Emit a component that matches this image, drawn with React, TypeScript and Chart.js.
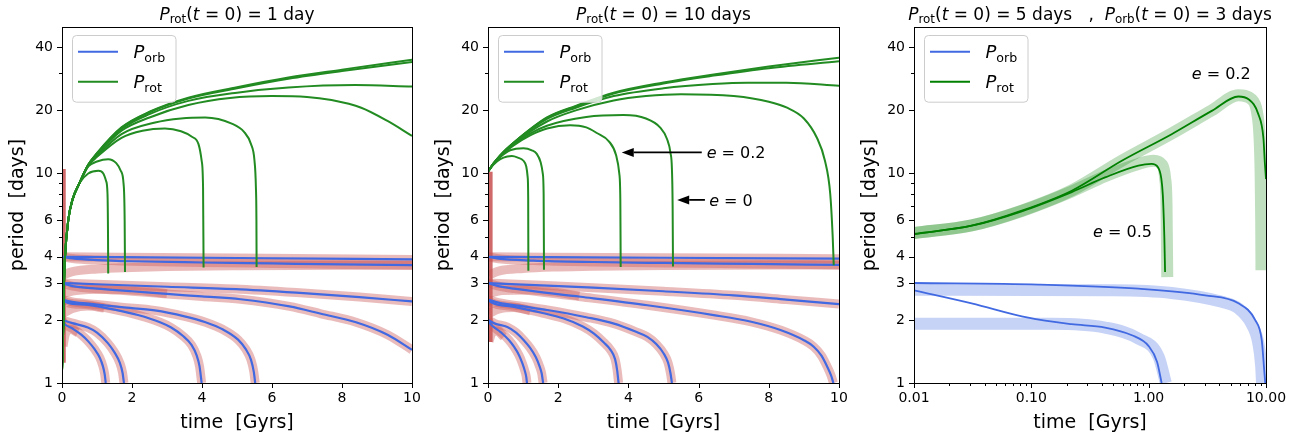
import React, { useEffect, useRef } from 'react';
import { Chart, registerables } from 'chart.js';

Chart.register(...registerables);

type Pt = [number, number];

const W = 1301;
const H = 436;
const FONT = '"DejaVu Sans", "Liberation Sans", sans-serif';

// ---------------- ticks ----------------
const X_LIN_TICKS = [0, 2, 4, 6, 8, 10];
const X_LIN_LABELS = ['0', '2', '4', '6', '8', '10'];
const X_LOG_MAJOR = [0.01, 0.1, 1, 10];
const X_LOG_LABELS = ['0.01', '0.10', '1.00', '10.00'];
const X_LOG_MINOR = [0.02, 0.03, 0.04, 0.05, 0.06, 0.07, 0.08, 0.09, 0.2, 0.3, 0.4, 0.5, 0.6, 0.7, 0.8, 0.9, 2, 3, 4, 5, 6, 7, 8, 9];
const Y_MAJOR = [1, 2, 3, 4, 6, 10, 20, 40];
const Y_LABELS = ['1', '2', '3', '4', '6', '10', '20', '40'];
const Y_MINOR = [5, 7, 8, 9, 30];

// ---------------- colours ----------------
const BLUE = 'rgb(65,105,225)';
const GREEN = 'rgb(34,139,34)';
const GREEN_DARK = 'rgb(0,128,0)';
const PINK = 'rgba(205,92,92,0.42)';
const RED_BAR = 'rgba(200,80,80,0.85)';
const BLUE_BAND = 'rgba(65,105,225,0.3)';
const GREEN_BAND = 'rgba(0,128,0,0.25)';

// ---------------- panel 1 : P_rot(t=0) = 1 day ----------------
const P1_ORB_A1: Pt[] = [[0, 4.0], [5, 3.95], [10, 3.89]];
const P1_ORB_A2: Pt[] = [[0, 4.0], [0.3, 3.93], [1, 3.86], [2, 3.81], [4, 3.76], [6, 3.72], [8, 3.68], [10, 3.65]];
const P1_ORB_B1: Pt[] = [[0, 3.0], [1, 2.96], [3, 2.88], [5.1, 2.8], [7, 2.68], [8.5, 2.57], [10, 2.45]];
const P1_ORB_B2: Pt[] = [[0, 3.0], [0.3, 2.9], [1, 2.82], [2, 2.74], [3, 2.66], [4, 2.59], [5.1, 2.51], [6.5, 2.32], [7.4, 2.14], [8.4, 1.95], [9.3, 1.7], [10, 1.44]];
const P1_ORB_C1: Pt[] = [[0, 2.5], [0.3, 2.44], [1, 2.37], [1.7, 2.3], [2.65, 2.22], [3.5, 2.08], [4.1, 1.95], [4.6, 1.8], [5.03, 1.61], [5.25, 1.45], [5.4, 1.29], [5.48, 1.13], [5.52, 1.0]];
const P1_ORB_C2: Pt[] = [[0, 2.5], [0.15, 2.42], [0.74, 2.36], [1.5, 2.24], [2.17, 2.11], [2.8, 1.95], [3.12, 1.84], [3.45, 1.68], [3.7, 1.52], [3.85, 1.35], [3.93, 1.2], [3.99, 1.0]];
const P1_ORB_D1: Pt[] = [[0, 2.0], [0.3, 1.93], [0.74, 1.84], [1.0, 1.74], [1.31, 1.55], [1.5, 1.4], [1.65, 1.25], [1.73, 1.12], [1.77, 1.0]];
const P1_ORB_D2: Pt[] = [[0, 2.0], [0.05, 1.93], [0.3, 1.82], [0.55, 1.7], [0.75, 1.58], [0.93, 1.45], [1.08, 1.32], [1.17, 1.2], [1.22, 1.1], [1.25, 1.0]];

const P1_SYNC_A: Pt[] = [[0.03, 3.28], [0.3, 3.4], [1, 3.5], [2, 3.56], [3, 3.6], [5, 3.63], [10, 3.65]];
const P1_SYNC_B: Pt[] = [[0.03, 2.68], [0.4, 2.76], [1.2, 2.8], [2.2, 2.76], [3.0, 2.67]];
const P1_SYNC_C: Pt[] = [[0.03, 2.15], [0.3, 2.27], [0.74, 2.33], [1.2, 2.28]];
const P1_SYNC_D: Pt[] = [[0.03, 1.5], [0.1, 1.72], [0.25, 1.8], [0.45, 1.74]];
const P1_RED_BAR: Pt[] = [[0.05, 1.25], [0.05, 10.5]];

const P1_ROT_START: Pt[] = [[0, 1.15], [0.02, 1.5], [0.04, 2.0], [0.057, 3.0], [0.086, 4.0], [0.18, 6.0], [0.3, 7.5], [0.5, 9.0]];
const P1_ROT_1: Pt[] = [[0.75, 10.0], [1.04, 10.3], [1.18, 10.0], [1.26, 9.2], [1.3, 8.0], [1.315, 5.0], [1.32, 3.33]];
const P1_ROT_2: Pt[] = [[0.75, 10.8], [1.0, 11.4], [1.32, 11.7], [1.55, 11.2], [1.68, 10.3], [1.76, 8.9], [1.79, 6.0], [1.8, 3.39]];
const P1_ROT_3: Pt[] = [[0.75, 10.9], [1.0, 12.0], [1.7, 14.8], [2.3, 16.0], [2.94, 16.4], [3.4, 15.9], [3.7, 15.0], [3.9, 13.8], [3.99, 11.5], [4.03, 8.6], [4.045, 3.56]];
const P1_ROT_4: Pt[] = [[0.75, 10.9], [1.0, 12.1], [1.7, 15.4], [2.66, 17.5], [3.4, 18.3], [4.09, 18.5], [4.85, 17.3], [5.2, 15.8], [5.4, 13.8], [5.5, 11.5], [5.54, 8.6], [5.555, 6.0], [5.56, 3.58]];
const P1_ROT_5: Pt[] = [[0.75, 11.0], [1.0, 12.3], [1.7, 16.0], [2.5, 18.5], [3.61, 21.2], [4.8, 22.9], [5.99, 23.4], [7.0, 23.2], [7.7, 22.4], [8.55, 20.6], [9.3, 17.8], [10, 15.1]];
const P1_ROT_6: Pt[] = [[0.75, 11.0], [1.0, 12.4], [1.7, 16.3], [2.5, 19.2], [3.61, 22.2], [5.0, 24.3], [6.47, 25.7], [8.37, 26.4], [10, 26.0]];
const P1_ROT_7: Pt[] = [[0.75, 11.0], [1.0, 12.5], [1.7, 16.6], [2.5, 19.7], [3.61, 23.0], [5.0, 25.8], [6.47, 28.7], [8.0, 31.3], [10, 34.9]];
const P1_ROT_8: Pt[] = [[0.75, 11.0], [1.0, 12.5], [1.7, 16.5], [2.5, 19.6], [3.61, 22.8], [5.0, 25.5], [6.47, 28.3], [8.0, 30.8], [10, 34.0]];

// ---------------- panel 2 : P_rot(t=0) = 10 days ----------------
const P2_ORB_A1: Pt[] = [[0, 4.0], [5, 3.96], [10, 3.92]];
const P2_ORB_A2: Pt[] = [[0, 4.0], [0.3, 3.92], [1.3, 3.84], [3, 3.78], [5, 3.74], [7.5, 3.7], [10, 3.66]];
const P2_ORB_B1: Pt[] = [[0, 3.0], [1, 2.95], [3, 2.85], [5, 2.74], [7, 2.62], [8.5, 2.5], [10, 2.38]];
const P2_ORB_B2: Pt[] = [[0, 3.0], [0.3, 2.9], [0.74, 2.82], [2.64, 2.58], [4.54, 2.35], [6.43, 2.11], [7.5, 1.96], [8.33, 1.79], [9.0, 1.6], [9.28, 1.49], [9.5, 1.35], [9.66, 1.2], [9.78, 1.08], [9.84, 1.0]];
const P2_ORB_C1: Pt[] = [[0, 2.5], [0.3, 2.42], [1, 2.32], [1.69, 2.23], [2.8, 2.06], [3.59, 1.92], [4.2, 1.76], [4.54, 1.66], [4.8, 1.53], [5.01, 1.38], [5.13, 1.25], [5.2, 1.11], [5.24, 1.0]];
const P2_ORB_C2: Pt[] = [[0, 2.5], [0.1, 2.42], [0.74, 2.31], [1.5, 2.17], [2.16, 2.03], [2.7, 1.86], [3.02, 1.72], [3.3, 1.56], [3.49, 1.44], [3.62, 1.3], [3.68, 1.15], [3.72, 1.0]];
const P2_ORB_D1: Pt[] = [[0, 2.0], [0.2, 1.92], [0.55, 1.85], [0.8, 1.74], [1.02, 1.6], [1.2, 1.47], [1.36, 1.33], [1.47, 1.2], [1.53, 1.11], [1.57, 1.0]];
const P2_ORB_D2: Pt[] = [[0, 2.0], [0.05, 1.93], [0.36, 1.75], [0.6, 1.6], [0.74, 1.49], [0.88, 1.36], [0.98, 1.24], [1.05, 1.14], [1.09, 1.07], [1.11, 1.0]];

const P2_SYNC_A: Pt[] = [[0.03, 3.28], [0.3, 3.42], [1, 3.52], [2, 3.58], [3, 3.61], [5, 3.64], [10, 3.66]];
const P2_SYNC_B: Pt[] = [[0.03, 2.68], [0.4, 2.76], [1.2, 2.78], [2.0, 2.7], [2.6, 2.6]];
const P2_SYNC_C: Pt[] = [[0.03, 2.15], [0.3, 2.25], [0.74, 2.29], [1.2, 2.21]];
const P2_SYNC_D: Pt[] = [[0.03, 1.58], [0.1, 1.72], [0.25, 1.77], [0.45, 1.66]];
const P2_RED_BAR: Pt[] = [[0.06, 1.57], [0.06, 10.2]];

const P2_ROT_1: Pt[] = [[0, 10.2], [0.15, 11.0], [0.35, 11.7], [0.55, 12.05], [0.68, 12.1], [0.85, 11.9], [1.01, 11.5], [1.09, 10.8], [1.13, 9.6], [1.145, 7.6], [1.15, 3.43]];
const P2_ROT_2: Pt[] = [[0, 10.2], [0.15, 11.1], [0.35, 12.0], [0.63, 12.9], [1.01, 13.2], [1.25, 12.9], [1.39, 12.4], [1.5, 11.3], [1.56, 10.0], [1.585, 8.0], [1.595, 3.47]];
const P2_ROT_3: Pt[] = [[0, 10.2], [0.15, 11.1], [0.35, 12.1], [0.73, 13.6], [1.2, 15.2], [1.68, 16.4], [2.34, 17.0], [2.8, 16.6], [3.1, 15.6], [3.45, 14.2], [3.65, 12.2], [3.74, 10.0], [3.77, 7.5], [3.78, 3.58]];
const P2_ROT_4: Pt[] = [[0, 10.2], [0.15, 11.1], [0.35, 12.1], [0.73, 13.7], [1.2, 15.5], [1.68, 16.9], [2.8, 18.6], [3.86, 19.0], [4.5, 18.3], [4.9, 16.6], [5.1, 14.6], [5.2, 12.5], [5.24, 10.5], [5.26, 7.0], [5.27, 3.6]];
const P2_ROT_5: Pt[] = [[0, 10.2], [0.15, 11.1], [0.35, 12.2], [0.73, 13.9], [1.68, 17.7], [2.5, 20.0], [3.58, 22.3], [4.5, 23.4], [5.5, 23.9], [7.0, 23.4], [8.0, 22.0], [8.52, 20.6], [9.0, 18.3], [9.37, 14.8], [9.6, 11.5], [9.75, 8.0], [9.82, 5.0], [9.85, 3.65]];
const P2_ROT_6: Pt[] = [[0, 10.2], [0.15, 11.1], [0.35, 12.2], [0.73, 14.0], [1.68, 18.2], [2.5, 20.6], [3.58, 23.4], [5.0, 25.5], [6.4, 26.7], [7.4, 27.1], [8.5, 27.1], [10, 26.2]];
const P2_ROT_7: Pt[] = [[0, 10.2], [0.15, 11.1], [0.35, 12.2], [0.73, 14.0], [1.68, 18.5], [2.5, 21.0], [3.58, 24.3], [5.0, 27.2], [6.43, 29.7], [8.0, 32.4], [10, 35.7]];
const P2_ROT_8: Pt[] = [[0, 10.2], [0.15, 11.1], [0.35, 12.2], [0.73, 14.0], [1.68, 18.4], [2.5, 20.9], [3.58, 24.1], [5.0, 26.9], [6.43, 29.3], [8.0, 31.8], [10, 34.3]];

// ---------------- panel 3 : P_rot(0)=5, P_orb(0)=3 (log time) ----------------
const P3_ROT_E02: Pt[] = [[0.01, 5.14], [0.031, 5.63], [0.083, 6.64], [0.221, 8.27], [0.59, 11.5], [1.57, 15.4], [3.45, 19.9], [5.82, 23.3], [7.1, 22.6], [8.6, 19.2], [9.5, 14.8], [9.8, 11.0], [10, 9.4]];
const P3_ROT_E05: Pt[] = [[0.01, 5.14], [0.031, 5.63], [0.083, 6.6], [0.221, 8.15], [0.425, 9.57], [0.817, 10.9], [1.06, 11.1], [1.2, 10.7], [1.28, 9.5], [1.32, 7.9], [1.36, 5.0], [1.38, 3.39]];
const P3_ROT_E02_BAND: Pt[] = [[0.01, 5.2], [0.031, 5.65], [0.083, 6.65], [0.221, 8.3], [0.59, 11.5], [1.57, 15.5], [3.45, 20.0], [5.82, 23.6], [7.6, 22.5], [8.4, 19.5], [8.8, 15.0], [9.0, 10.0], [9.1, 6.0], [9.15, 3.45]];
const P3_ROT_E05_BAND: Pt[] = [[0.01, 5.2], [0.031, 5.65], [0.083, 6.62], [0.221, 8.2], [0.425, 9.7], [0.817, 11.1], [1.1, 11.5], [1.3, 11.0], [1.38, 9.5], [1.42, 7.0], [1.44, 3.2]];
const P3_ORB_E02: Pt[] = [[0.01, 3.0], [0.115, 2.95], [0.817, 2.82], [3.03, 2.62], [5.82, 2.4], [8.07, 2.0], [9.2, 1.6], [9.6, 1.2], [9.85, 1.0]];
const P3_ORB_E05: Pt[] = [[0.01, 2.77], [0.031, 2.4], [0.094, 2.05], [0.22, 1.91], [0.425, 1.84], [0.72, 1.69], [1.0, 1.5], [1.18, 1.26], [1.29, 1.0]];
const P3_ORB_E02_BAND: Pt[] = [[0.01, 2.79], [0.5, 2.77], [1.57, 2.69], [4.2, 2.44], [5.82, 2.27], [7.5, 1.92], [8.6, 1.55], [9.1, 1.2], [9.25, 1.0]];
const P3_ORB_E05_BAND: Pt[] = [[0.01, 1.92], [0.15, 1.92], [0.425, 1.84], [0.82, 1.63], [1.22, 1.33], [1.4, 1.0]];

// ---------------- types ----------------
interface Seg { t: string; it?: boolean; sub?: boolean }
interface Series { data: Pt[]; color: string; width: number; order: number }
interface Note { segs: Seg[]; x: number; y: number }
interface Arrow { from: Pt; to: Pt }
interface PanelDef {
  left: number; width: number; yAxisW: number; padRight: number; xLog: boolean;
  series: Series[]; title: Seg[]; notes: Note[]; arrows: Arrow[]; legendGreen: string;
}

const P_ROT: Seg[] = [{ t: 'P', it: true }, { t: 'rot', sub: true }];
const P_ORB: Seg[] = [{ t: 'P', it: true }, { t: 'orb', sub: true }];
const T_EQ0: Seg[] = [{ t: '(' }, { t: 't', it: true }, { t: ' = 0) = ' }];

const TITLE1: Seg[] = [...P_ROT, ...T_EQ0, { t: '1 day' }];
const TITLE2: Seg[] = [...P_ROT, ...T_EQ0, { t: '10 days' }];
const TITLE3: Seg[] = [...P_ROT, ...T_EQ0, { t: '5 days   ,  ' }, ...P_ORB, ...T_EQ0, { t: '3 days' }];

const eq = (v: string): Seg[] => [{ t: 'e', it: true }, { t: ' = ' + v }];

function bands(list: Pt[][], color: string, width: number, order: number): Series[] {
  return list.map((d) => ({ data: d, color, width, order }));
}

const P1_ORB = [P1_ORB_A1, P1_ORB_A2, P1_ORB_B1, P1_ORB_B2, P1_ORB_C1, P1_ORB_C2, P1_ORB_D1, P1_ORB_D2];
const P1_SYNC = [P1_SYNC_A, P1_SYNC_B, P1_SYNC_C, P1_SYNC_D];
const P1_ROT = [P1_ROT_1, P1_ROT_2, P1_ROT_3, P1_ROT_4, P1_ROT_5, P1_ROT_6, P1_ROT_7, P1_ROT_8].map((r) => [...P1_ROT_START, ...r]);

const P2_ORB = [P2_ORB_A1, P2_ORB_A2, P2_ORB_B1, P2_ORB_B2, P2_ORB_C1, P2_ORB_C2, P2_ORB_D1, P2_ORB_D2];
const P2_SYNC = [P2_SYNC_A, P2_SYNC_B, P2_SYNC_C, P2_SYNC_D];
const P2_ROT = [P2_ROT_1, P2_ROT_2, P2_ROT_3, P2_ROT_4, P2_ROT_5, P2_ROT_6, P2_ROT_7, P2_ROT_8];

const PANELS: PanelDef[] = [
  {
    left: 0, width: 430, yAxisW: 62, padRight: 18, xLog: false, title: TITLE1, legendGreen: GREEN,
    series: [
      ...bands(P1_ORB, PINK, 9, 4),
      ...bands(P1_SYNC, PINK, 9, 4),
      { data: P1_RED_BAR, color: RED_BAR, width: 4, order: 3 },
      ...bands(P1_ORB, BLUE, 2.2, 2),
      ...bands(P1_ROT, GREEN, 2, 1),
    ],
    notes: [], arrows: [],
  },
  {
    left: 430, width: 430, yAxisW: 58, padRight: 21, xLog: false, title: TITLE2, legendGreen: GREEN,
    series: [
      ...bands(P2_ORB, PINK, 9, 4),
      ...bands(P2_SYNC, PINK, 9, 4),
      { data: P2_RED_BAR, color: RED_BAR, width: 5, order: 3 },
      ...bands(P2_ORB, BLUE, 2.2, 2),
      ...bands(P2_ROT, GREEN, 2, 1),
    ],
    notes: [
      { segs: eq('0.2'), x: 6.23, y: 11.9 },
      { segs: eq('0'), x: 6.3, y: 7.02 },
    ],
    arrows: [
      { from: [6.09, 12.6], to: [3.81, 12.6] },
      { from: [6.18, 7.48], to: [5.39, 7.48] },
    ],
  },
  {
    left: 860, width: 441, yAxisW: 54, padRight: 35, xLog: true, title: TITLE3, legendGreen: GREEN_DARK,
    series: [
      ...bands([P3_ROT_E02_BAND, P3_ROT_E05_BAND], GREEN_BAND, 12, 4),
      ...bands([P3_ORB_E02_BAND, P3_ORB_E05_BAND], BLUE_BAND, 12, 3),
      ...bands([P3_ORB_E02, P3_ORB_E05], BLUE, 1.8, 2),
      ...bands([P3_ROT_E02, P3_ROT_E05], GREEN_DARK, 1.8, 1),
    ],
    notes: [
      { segs: eq('0.2'), x: 2.33, y: 28.1 },
      { segs: eq('0.5'), x: 0.336, y: 5.0 },
    ],
    arrows: [],
  },
];

// ---------------- drawing helpers ----------------
function drawRich(ctx: CanvasRenderingContext2D, segs: Seg[], x: number, y: number, size: number, align: 'left' | 'center') {
  const fonts = segs.map((s) => `${s.it ? 'italic ' : ''}${(s.sub ? size * 0.7 : size).toFixed(1)}px ${FONT}`);
  const widths = segs.map((s, i) => { ctx.font = fonts[i]; return ctx.measureText(s.t).width; });
  const total = widths.reduce((a, b) => a + b, 0);
  let cx = align === 'center' ? x - total / 2 : x;
  ctx.textAlign = 'left';
  ctx.textBaseline = 'alphabetic';
  ctx.fillStyle = '#000';
  segs.forEach((s, i) => {
    ctx.font = fonts[i];
    ctx.fillText(s.t, cx, y + (s.sub ? size * 0.2 : 0));
    cx += widths[i];
  });
}

function roundRectPath(ctx: CanvasRenderingContext2D, x: number, y: number, w: number, h: number, r: number) {
  ctx.beginPath();
  ctx.moveTo(x + r, y);
  ctx.arcTo(x + w, y, x + w, y + h, r);
  ctx.arcTo(x + w, y + h, x, y + h, r);
  ctx.arcTo(x, y + h, x, y, r);
  ctx.arcTo(x, y, x + w, y, r);
  ctx.closePath();
}

const labelFor = (vals: number[], labels: string[]) => (v: any) => {
  const n = Number(v);
  const i = vals.findIndex((t) => Math.abs(t - n) <= 1e-6 * Math.abs(t) + 1e-12);
  return i >= 0 ? labels[i] : '';
};

function makeDecor(p: PanelDef) {
  return {
    id: 'decor',
    afterDraw(chart: any) {
      const ctx: CanvasRenderingContext2D = chart.ctx;
      const a = chart.chartArea;
      const xs = chart.scales.x;
      const ys = chart.scales.y;
      const L = Math.round(a.left), R = Math.round(a.right), T = Math.round(a.top), B = Math.round(a.bottom);
      ctx.save();

      // arrows
      ctx.fillStyle = '#000';
      ctx.strokeStyle = '#000';
      for (const ar of p.arrows) {
        const x0 = xs.getPixelForValue(ar.from[0]), y0 = ys.getPixelForValue(ar.from[1]);
        const x1 = xs.getPixelForValue(ar.to[0]), y1 = ys.getPixelForValue(ar.to[1]);
        const ang = Math.atan2(y1 - y0, x1 - x0);
        const hl = 12, hw = 4.5;
        const bx = x1 - hl * Math.cos(ang), by = y1 - hl * Math.sin(ang);
        ctx.lineWidth = 1.8;
        ctx.beginPath(); ctx.moveTo(x0, y0); ctx.lineTo(bx, by); ctx.stroke();
        ctx.beginPath();
        ctx.moveTo(x1, y1);
        ctx.lineTo(bx + hw * Math.sin(ang), by - hw * Math.cos(ang));
        ctx.lineTo(bx - hw * Math.sin(ang), by + hw * Math.cos(ang));
        ctx.closePath(); ctx.fill();
      }
      for (const n of p.notes) {
        drawRich(ctx, n.segs, xs.getPixelForValue(n.x), ys.getPixelForValue(n.y), 16, 'left');
      }

      // legend
      const lx = a.left + 9.5, ly = a.top + 8;
      roundRectPath(ctx, Math.round(lx) + 0.5, Math.round(ly) + 0.5, 103.5, 66.7, 4);
      ctx.fillStyle = 'rgba(255,255,255,0.8)';
      ctx.fill();
      ctx.strokeStyle = '#cccccc';
      ctx.lineWidth = 1;
      ctx.stroke();
      const entries = [{ color: BLUE, segs: P_ORB }, { color: p.legendGreen, segs: P_ROT }];
      entries.forEach((e, i) => {
        const yy = a.top + 24.7 + 30 * i;
        ctx.strokeStyle = e.color;
        ctx.lineWidth = 2;
        ctx.beginPath(); ctx.moveTo(a.left + 16, yy); ctx.lineTo(a.left + 56, yy); ctx.stroke();
        drawRich(ctx, e.segs, a.left + 71.5, yy + 6.6, 18, 'left');
      });

      // ticks
      ctx.strokeStyle = '#000';
      ctx.lineWidth = 1;
      ctx.beginPath();
      const yTick = (v: number, len: number) => {
        const y = Math.round(ys.getPixelForValue(v)) + 0.5;
        ctx.moveTo(L - len, y); ctx.lineTo(L, y);
      };
      const xTick = (v: number, len: number) => {
        const x = Math.round(xs.getPixelForValue(v)) + 0.5;
        ctx.moveTo(x, B); ctx.lineTo(x, B + len);
      };
      Y_MAJOR.forEach((v) => yTick(v, 5));
      Y_MINOR.forEach((v) => yTick(v, 3));
      if (p.xLog) {
        X_LOG_MAJOR.forEach((v) => xTick(v, 5));
        X_LOG_MINOR.forEach((v) => xTick(v, 3));
      } else {
        X_LIN_TICKS.forEach((v) => xTick(v, 5));
      }
      ctx.stroke();

      // frame
      ctx.strokeRect(L + 0.5, T + 0.5, R - L, B - T);

      // title
      drawRich(ctx, p.title, (a.left + a.right) / 2, 19.5, 17, 'center');

      // axis labels
      ctx.fillStyle = '#000';
      ctx.font = `19px ${FONT}`;
      ctx.textAlign = 'center';
      ctx.textBaseline = 'alphabetic';
      ctx.fillText('time  [Gyrs]', (a.left + a.right) / 2, 427.5);
      ctx.save();
      ctx.translate(a.left - 39.5, (a.top + a.bottom) / 2);
      ctx.rotate(-Math.PI / 2);
      ctx.fillText('period  [days]', 0, 0);
      ctx.restore();

      ctx.restore();
    },
  };
}

function buildConfig(p: PanelDef): any {
  const tickFont = { family: FONT, size: 14 };
  const xVals = p.xLog ? [...X_LOG_MAJOR, ...X_LOG_MINOR].sort((u, v) => u - v) : X_LIN_TICKS;
  const yVals = [...Y_MAJOR, ...Y_MINOR].sort((u, v) => u - v);
  return {
    type: 'line',
    data: {
      datasets: p.series.map((s) => ({
        data: s.data.map(([x, y]) => ({ x, y })),
        borderColor: s.color,
        backgroundColor: s.color,
        borderWidth: s.width,
        pointRadius: 0,
        pointHoverRadius: 0,
        fill: false,
        order: s.order,
        cubicInterpolationMode: 'monotone',
        borderCapStyle: 'butt',
        borderJoinStyle: 'round',
        clip: 0,
      })),
    },
    options: {
      animation: false,
      responsive: false,
      maintainAspectRatio: false,
      events: [],
      layout: { padding: { left: 0, top: 27, right: p.padRight, bottom: 0 } },
      plugins: { legend: { display: false }, title: { display: false }, tooltip: { enabled: false } },
      scales: {
        x: {
          type: p.xLog ? 'logarithmic' : 'linear',
          min: p.xLog ? 0.01 : 0,
          max: 10,
          afterBuildTicks: (s: any) => { s.ticks = xVals.map((v) => ({ value: v })); },
          afterFit: (s: any) => { s.height = H - 383; },
          ticks: {
            autoSkip: false, maxRotation: 0, minRotation: 0, padding: 2, font: tickFont, color: '#000',
            callback: p.xLog ? labelFor(X_LOG_MAJOR, X_LOG_LABELS) : labelFor(X_LIN_TICKS, X_LIN_LABELS),
          },
          grid: { display: true, drawOnChartArea: false, drawTicks: true, tickLength: 5, tickColor: 'rgba(0,0,0,0)' },
          border: { display: false },
        },
        y: {
          type: 'logarithmic',
          min: 1,
          max: 50,
          afterBuildTicks: (s: any) => { s.ticks = yVals.map((v) => ({ value: v })); },
          afterFit: (s: any) => { s.width = p.yAxisW; },
          ticks: { autoSkip: false, padding: 4, font: tickFont, color: '#000', callback: labelFor(Y_MAJOR, Y_LABELS) },
          grid: { display: true, drawOnChartArea: false, drawTicks: true, tickLength: 5, tickColor: 'rgba(0,0,0,0)' },
          border: { display: false },
        },
      },
    },
    plugins: [makeDecor(p)],
  };
}

function PanelChart({ p }: { p: PanelDef }) {
  const ref = useRef<HTMLCanvasElement>(null);
  useEffect(() => {
    if (!ref.current) return;
    const chart = new Chart(ref.current, buildConfig(p));
    return () => chart.destroy();
  }, [p]);
  return (
    <canvas
      ref={ref}
      width={p.width}
      height={H}
      style={{ position: 'absolute', left: p.left, top: 0, width: p.width, height: H, display: 'block' }}
    />
  );
}

export default function App() {
  return (
    <div style={{ position: 'fixed', left: 0, top: 0, width: W, height: H, background: '#fff', overflow: 'hidden' }}>
      {PANELS.map((p, i) => (
        <PanelChart key={i} p={p} />
      ))}
    </div>
  );
}
